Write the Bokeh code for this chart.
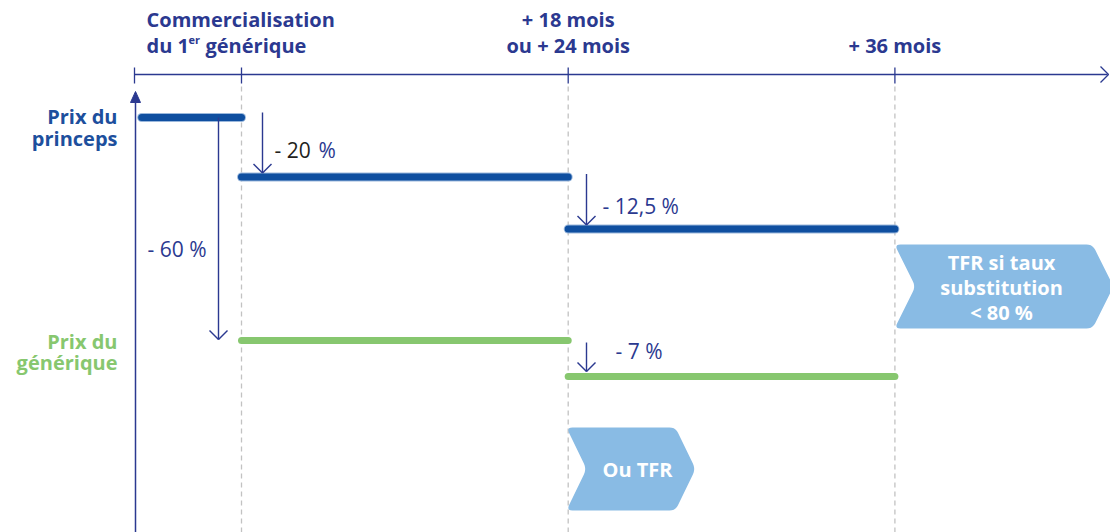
import math
from bokeh.plotting import figure
from bokeh.models import Range1d
from bokeh.core.properties import value
from bokeh.embed import file_html
from bokeh.resources import INLINE

# ---------------- data ----------------
stage_months = [0, 18, 36]                       # time of each price step (months after 1st generic)
stage_line1 = ["Commercialisation", "+ 18 mois", ""]
stage_line2 = ["du 1", "ou + 24 mois", "+ 36 mois"]

princeps_start = [-5.5, 0, 18]
princeps_end = [0, 18, 36]
princeps_level = [100, 84, 70]                   # schematic price level of the princeps

generique_start = [0, 18]
generique_end = [18, 36]
generique_level = [40, 30.3]                     # schematic price level of the generic

drop_labels = ["- 60 %", "- 20", "- 12,5 %", "- 7 %"]
row_labels = [["Prix du", "princeps"], ["Prix du", "générique"]]
tfr_box1 = ["TFR si taux", "substitution", "< 80 %"]
tfr_box2 = ["Ou TFR"]

# ---------------- frame helpers ----------------
W, H = 1110, 532
PX_PER_MONTH = 18.15
X0_PX = 241
PX_PER_UNIT = 3.717
Y100_PX = 117


def X(px):
    return (px - X0_PX) / PX_PER_MONTH


def Y(py):
    return 100 - (py - Y100_PX) / PX_PER_UNIT


def dpx(n):  # vertical pixel distance in level units
    return n / PX_PER_UNIT


NAVY = "#2b3990"
PRINCEPS = "#0f4fa0"
PRINCEPS_TXT = "#1d4f9d"
GREEN = "#87c76f"
BOX = "#89bbe4"
DASH = "#c2c2c2"
FONT = "Open Sans"

p = figure(width=W, height=H, min_border=0, toolbar_location=None,
           output_backend="svg", x_range=Range1d(X(0), X(W)),
           y_range=Range1d(Y(H), Y(0)), outline_line_color=None)
p.axis.visible = False
p.grid.visible = False
p.background_fill_color = "white"
p.border_fill_color = "white"

# dashed guides
p.segment(x0=stage_months, y0=Y(86), x1=stage_months, y1=Y(H),
          line_color=DASH, line_width=1.3, line_dash="5 4")

# top time axis
p.line([X(134), X(1107)], [Y(74), Y(74)], line_color=NAVY, line_width=1.3)
p.line([X(1100), X(1108), X(1100)], [Y(66), Y(74), Y(82)], line_color=NAVY, line_width=1.3)
tick_x = [X(134)] + stage_months
p.segment(x0=tick_x, y0=Y(67), x1=tick_x, y1=Y(83), line_color=NAVY, line_width=1.3)

# vertical axis with filled arrow
p.segment(x0=[X(135)], y0=[Y(100)], x1=[X(135)], y1=[Y(H)], line_color=NAVY, line_width=1.5)
p.patch([X(130), X(135), X(140)], [Y(102), Y(91), Y(102)], fill_color=NAVY, line_color=NAVY)

# price lines
p.segment(x0=princeps_start, y0=princeps_level, x1=princeps_end, y1=princeps_level,
          line_color="#9bb8dc", line_width=9, line_cap="round")
p.segment(x0=princeps_start, y0=princeps_level, x1=princeps_end, y1=princeps_level,
          line_color=PRINCEPS, line_width=7, line_cap="round")
p.segment(x0=generique_start, y0=generique_level, x1=generique_end, y1=generique_level,
          line_color=GREEN, line_width=7, line_cap="round")

# drop arrows
arr_x = [X(218), X(262), X(586), X(586)]
arr_top = [princeps_level[0], princeps_level[0] + dpx(5),
           princeps_level[1] + dpx(3), generique_level[0] - dpx(2)]
arr_tip = [generique_level[0] + dpx(1), princeps_level[1] + dpx(4),
           princeps_level[2] + dpx(4), generique_level[1] + dpx(5)]
p.segment(x0=arr_x, y0=arr_top, x1=arr_x, y1=arr_tip, line_color=NAVY, line_width=1.4)
hx = 9 / PX_PER_MONTH
hy = dpx(9)
p.segment(x0=[x - hx for x in arr_x] + [x + hx for x in arr_x],
          y0=[t + hy for t in arr_tip] * 2,
          x1=arr_x * 2, y1=arr_tip * 2, line_color=NAVY, line_width=1.4)

# drop labels
lab_x = [X(147), X(274), X(602), X(615)]
lab_y = [Y(248), Y(149), Y(205), Y(350)]
lab_col = [NAVY, "#231f20", NAVY, NAVY]
p.text(x=lab_x, y=lab_y, text=drop_labels, text_color=lab_col, text_font=value(FONT),
       text_font_size="21px", text_baseline="middle", text_align="left")
p.text(x=[X(318)], y=[Y(149)], text=["%"], text_color=NAVY, text_font=value(FONT),
       text_font_size="21px", text_baseline="middle", text_align="left")

# row labels
p.text(x=[X(117)] * 2, y=[Y(116), Y(138)], text=row_labels[0], text_color=PRINCEPS_TXT,
       text_font=value(FONT), text_font_style="bold", text_font_size="20px",
       text_baseline="middle", text_align="right")
p.text(x=[X(117)] * 2, y=[Y(341), Y(362)], text=row_labels[1], text_color=GREEN,
       text_font=value(FONT), text_font_style="bold", text_font_size="20px",
       text_baseline="middle", text_align="right")

# top stage labels
p.text(x=[X(146), stage_months[1]], y=[Y(19), Y(19)], text=stage_line1[:2],
       text_color=NAVY, text_font=value(FONT), text_font_style="bold",
       text_font_size="20px", text_baseline="middle", text_align=["left", "center"])
p.text(x=[X(146), stage_months[1], stage_months[2]], y=[Y(45)] * 3, text=stage_line2,
       text_color=NAVY, text_font=value(FONT), text_font_style="bold",
       text_font_size="20px", text_baseline="middle", text_align=["left", "center", "center"])
p.text(x=[X(188)], y=[Y(39)], text=["er"], text_color=NAVY, text_font=value(FONT),
       text_font_style="bold", text_font_size="11px", text_baseline="middle", text_align="left")
p.text(x=[X(205)], y=[Y(45)], text=["générique"], text_color=NAVY, text_font=value(FONT),
       text_font_style="bold", text_font_size="20px", text_baseline="middle", text_align="left")


# chevron boxes
def rounded(pts, r=7, n=5):
    out = []
    m = len(pts)
    for i in range(m):
        px0, py0 = pts[i - 1]
        px1, py1 = pts[i]
        px2, py2 = pts[(i + 1) % m]
        d1 = math.hypot(px0 - px1, py0 - py1)
        d2 = math.hypot(px2 - px1, py2 - py1)
        a = (px1 + (px0 - px1) * r / d1, py1 + (py0 - py1) * r / d1)
        b = (px1 + (px2 - px1) * r / d2, py1 + (py2 - py1) * r / d2)
        for k in range(n + 1):
            t = k / n
            qx = (1 - t) ** 2 * a[0] + 2 * (1 - t) * t * px1 + t ** 2 * b[0]
            qy = (1 - t) ** 2 * a[1] + 2 * (1 - t) * t * py1 + t ** 2 * b[1]
            out.append((qx, qy))
    return out


def chevron(left, top, bottom, right, depth=20):
    mid = (top + bottom) / 2
    pts = [(left, top), (right, top), (right + depth, mid), (right, bottom),
           (left, bottom), (left + depth, mid)]
    rr = rounded(pts, r=6)
    return [X(a) for a, b in rr], [Y(b) for a, b in rr]


bx1, by1 = chevron(894, 244, 328, 1092, 21)
bx2, by2 = chevron(566, 427, 510, 675, 20)
p.patches([bx1, bx2], [by1, by2], fill_color=BOX, line_color=None)

p.text(x=[X(1001)] * 3, y=[Y(262), Y(287), Y(312)], text=tfr_box1, text_color="white",
       text_font=value(FONT), text_font_style="bold", text_font_size="20px",
       text_baseline="middle", text_align="center")
p.text(x=[X(637)], y=[Y(469)], text=tfr_box2, text_color="white",
       text_font=value(FONT), text_font_style="bold", text_font_size="20px",
       text_baseline="middle", text_align="center")

open("out.html", "w").write(file_html(p, INLINE))
